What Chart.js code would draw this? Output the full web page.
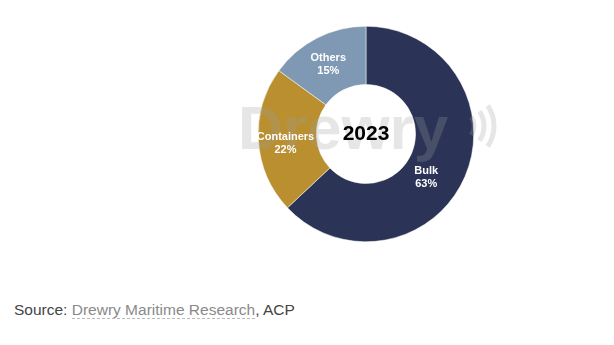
<!DOCTYPE html>
<html lang="en">
<head>
    <meta charset="UTF-8">
    <title>Cargo mix 2023</title>
    <script src="https://cdn.jsdelivr.net/npm/chart.js"></script>
    <style>
        body { margin: 0; background: #fff; width: 614px; height: 345px; position: relative; overflow: hidden; font-family: Arial, "Liberation Sans", sans-serif; }
        .chart-box { position: absolute; left: 200px; top: 0; width: 332px; height: 268px; }
        .source { position: absolute; left: 14px; top: 301px; font-size: 15.5px; color: #444; }
        .source span { color: #8a8a8a; border-bottom: 1px dashed #bbb; }
    </style>
</head>
<body>
    <div class="chart-box"><canvas id="mixChart"></canvas></div>
    <div class="source">Source: <span>Drewry Maritime Research</span>, ACP</div>

    <script>
        const segments = ["Bulk", "Containers", "Others"];
        const shares = [63, 22, 15];
        const colours = ["#2b3456", "#b98f30", "#7f99b4"];
        const centreLabel = "2023";

        // logo text in the background, segment labels and the year in the hole
        const overlay = {
            id: "overlay",
            afterDatasetsDraw(chart) {
                const ctx = chart.ctx;
                const meta = chart.getDatasetMeta(0);
                const cx = meta.data[0].x, cy = meta.data[0].y;

                ctx.save();
                ctx.fillStyle = "rgba(160,160,160,0.26)";
                ctx.font = "bold 62px Arial, 'Liberation Sans', sans-serif";
                ctx.textAlign = "left";
                ctx.textBaseline = "middle";
                ctx.fillText("Drewry", cx - 128, cy - 2);
                ctx.strokeStyle = "rgba(160,160,160,0.26)";
                ctx.lineWidth = 5;
                for (let i = 0; i < 3; i++) {
                    ctx.beginPath();
                    ctx.arc(cx + 92, cy - 8, 16 + i * 10, -0.6, 0.6);
                    ctx.stroke();
                }
                ctx.restore();

                ctx.save();
                ctx.fillStyle = "#fff";
                ctx.font = "bold 11px Arial, 'Liberation Sans', sans-serif";
                ctx.textAlign = "center";
                ctx.textBaseline = "middle";
                const offsets = [[-12, 12], [-2, 4], [-2, 0]];
                meta.data.forEach((arc, i) => {
                    const p = arc.tooltipPosition();
                    const x = p.x + offsets[i][0], y = p.y + offsets[i][1];
                    ctx.fillText(segments[i], x, y - 6);
                    ctx.fillText(shares[i] + "%", x, y + 7);
                });
                ctx.fillStyle = "#000";
                ctx.font = "bold 21px Arial, 'Liberation Sans', sans-serif";
                ctx.fillText(centreLabel, cx, cy);
                ctx.restore();
            }
        };

        new Chart(document.getElementById("mixChart"), {
            type: "doughnut",
            data: {
                labels: segments,
                datasets: [{
                    data: shares,
                    backgroundColor: colours,
                    borderColor: "#fff",
                    borderWidth: 0.5
                }]
            },
            options: {
                responsive: true,
                maintainAspectRatio: false,
                animation: false,
                cutout: "46%",
                layout: { padding: { top: 26, bottom: 26, left: 0, right: 0 } },
                plugins: {
                    legend: { display: false },
                    tooltip: { enabled: false }
                }
            },
            plugins: [overlay]
        });
    </script>
</body>
</html>
